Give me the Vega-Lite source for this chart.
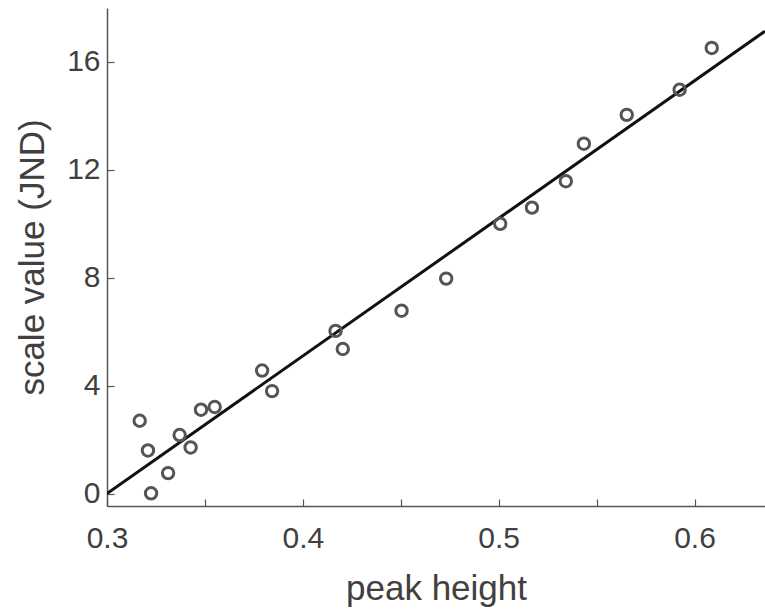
{
  "$schema": "https://vega.github.io/schema/vega-lite/v6.json",
  "width": 658,
  "height": 498,
  "autosize": {"type": "none"},
  "padding": {"left": 107, "top": 8, "right": 0, "bottom": 108},
  "background": "white",
  "config": {
    "view": {"stroke": null},
    "font": "Liberation Sans",
    "axis": {
      "domainColor": "#555555",
      "domainWidth": 1.5,
      "tickColor": "#555555",
      "tickWidth": 1.2,
      "tickSize": -7,
      "labelColor": "#404040",
      "titleColor": "#404040",
      "labelFont": "Liberation Sans",
      "titleFont": "Liberation Sans",
      "labelFontSize": 30,
      "titleFontSize": 35,
      "titleFontWeight": "normal",
      "grid": false
    }
  },
  "datasets": {
    "points": [
      {"peak": 0.3167, "scale": 2.70},
      {"peak": 0.3209, "scale": 1.60},
      {"peak": 0.3225, "scale": 0.01},
      {"peak": 0.3312, "scale": 0.76},
      {"peak": 0.3371, "scale": 2.17},
      {"peak": 0.3427, "scale": 1.71},
      {"peak": 0.3480, "scale": 3.11},
      {"peak": 0.3550, "scale": 3.21},
      {"peak": 0.3792, "scale": 4.56},
      {"peak": 0.3843, "scale": 3.80},
      {"peak": 0.4167, "scale": 6.03},
      {"peak": 0.4204, "scale": 5.36},
      {"peak": 0.4504, "scale": 6.78},
      {"peak": 0.4732, "scale": 7.97},
      {"peak": 0.5008, "scale": 10.00},
      {"peak": 0.5170, "scale": 10.60},
      {"peak": 0.5343, "scale": 11.58},
      {"peak": 0.5435, "scale": 12.97},
      {"peak": 0.5654, "scale": 14.04},
      {"peak": 0.5924, "scale": 14.97},
      {"peak": 0.6088, "scale": 16.52}
    ],
    "fit": [
      {"peak": 0.3, "scale": 0.0},
      {"peak": 0.636, "scale": 17.14}
    ]
  },
  "layer": [
    {
      "data": {"name": "fit"},
      "mark": {"type": "line", "color": "#111111", "strokeWidth": 3, "clip": true},
      "encoding": {
        "x": {
          "field": "peak", "type": "quantitative",
          "scale": {"domain": [0.3, 0.636], "nice": false, "zero": false},
          "axis": {
            "title": "peak height",
            "values": [0.3, 0.35, 0.4, 0.45, 0.5, 0.55, 0.6],
            "labelExpr": "abs(datum.value*10 - round(datum.value*10)) < 0.001 ? format(datum.value, '.1f') : ''",
            "labelPadding": 24,
            "titlePadding": 18,
            "labelFlush": false
          }
        },
        "y": {
          "field": "scale", "type": "quantitative",
          "scale": {"domain": [-0.46, 18], "nice": false, "zero": false},
          "axis": {
            "title": "scale value (JND)",
            "values": [0, 4, 8, 12, 16],
            "labelPadding": 14,
            "titlePadding": 16,
            "labelFlush": false
          }
        }
      }
    },
    {
      "data": {"name": "points"},
      "mark": {"type": "point", "shape": "circle", "filled": false, "stroke": "#555555", "strokeWidth": 3, "size": 130, "opacity": 1},
      "encoding": {
        "x": {"field": "peak", "type": "quantitative"},
        "y": {"field": "scale", "type": "quantitative"}
      }
    }
  ]
}
